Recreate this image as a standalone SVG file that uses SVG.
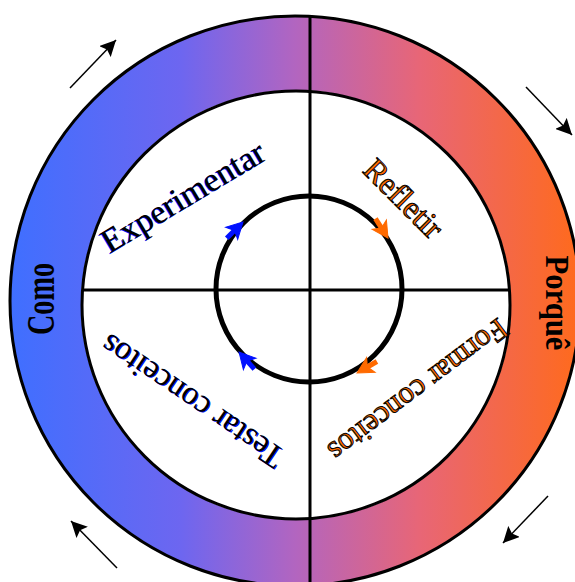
<svg xmlns="http://www.w3.org/2000/svg" width="575" height="582" viewBox="0 0 575 582">
<style>
.edge{fill:none;stroke:#000;stroke-width:3}
.lbl{font-family:"Liberation Serif","Times New Roman",serif;text-anchor:middle}
.side{font-family:"Liberation Serif","Times New Roman",serif;font-weight:bold;text-anchor:middle;fill:#000}
.ol{fill:none;stroke:#000;stroke-width:1.5}
.blue{fill:#0010ff}
.orange{fill:#ff6a00}
.sb{stroke:#0010ff}
.so{stroke:#ff6a00}
</style>
<defs>
<linearGradient id="g" gradientUnits="userSpaceOnUse" x1="10" y1="0" x2="580" y2="0">
<stop offset="0" stop-color="#3f6fff"/>
<stop offset="0.3" stop-color="#6d66f0"/>
<stop offset="0.5" stop-color="#b265c0"/>
<stop offset="0.72" stop-color="#e86676"/>
<stop offset="1" stop-color="#ff6a1c"/>
</linearGradient>
<marker id="ah" markerUnits="userSpaceOnUse" markerWidth="18" markerHeight="16" refX="16" refY="8" orient="auto">
<path d="M0,0 L16,8 L0,16 L3,8 Z" fill="#000"/>
</marker>
<g id="small">
<line x1="-10" y1="0" x2="-23" y2="0" stroke-width="5"/>
<path d="M0,0 L-16,-8.5 L-12,0 L-16,8.5 Z"/>
</g>
</defs>

<g id="ring">
<path d="M10,301 A285,285 0 1,1 580,301 A285,285 0 1,1 10,301 Z M81,305 A215,215 0 1,0 511,305 A215,215 0 1,0 81,305 Z" fill="url(#g)" fill-rule="evenodd"/>
<circle cx="295" cy="301" r="285" class="edge"/>
<circle cx="296" cy="305" r="214" fill="#fff" class="edge"/>
</g>

<g id="cross">
<line x1="310" y1="16" x2="310" y2="590" stroke="#000" stroke-width="3"/>
<line x1="82" y1="290" x2="510" y2="290" stroke="#000" stroke-width="3"/>
</g>

<g id="cycle">
<circle cx="309" cy="289" r="93" fill="none" stroke="#000" stroke-width="5"/>
</g>

<g id="connectors">
<line x1="70" y1="88" x2="116" y2="40" class="ol" marker-end="url(#ah)"/>
<line x1="526" y1="87" x2="572" y2="135" class="ol" marker-end="url(#ah)"/>
<line x1="548" y1="496" x2="503" y2="543" class="ol" marker-end="url(#ah)"/>
<line x1="117" y1="568" x2="71" y2="521" class="ol" marker-end="url(#ah)"/>
<use href="#small" class="blue sb" transform="translate(243,222) rotate(-45)"/>
<use href="#small" class="orange so" transform="translate(388,238) rotate(57)"/>
<use href="#small" class="orange so" transform="translate(357,373) rotate(150)"/>
<use href="#small" class="blue sb" transform="translate(239,352) rotate(228)"/>
</g>

<g id="node-experimentar">
<text class="lbl" font-size="34" fill="#0010ff" transform="translate(188,207) rotate(-31)">Experimentar</text>
<text class="lbl" font-size="34" fill="#000" transform="translate(189,206.2) rotate(-31)">Experimentar</text>
</g>
<g id="node-refletir">
<text class="lbl" font-size="32" fill="#ff6a00" stroke="#000" stroke-width="1" transform="translate(396,206) rotate(45)">Refletir</text>
</g>
<g id="node-testar">
<text class="lbl" font-size="33" fill="#0010ff" transform="translate(198.8,392.8) rotate(214)">Testar conceitos</text>
<text class="lbl" font-size="33" fill="#000" transform="translate(198,392) rotate(214)">Testar conceitos</text>
</g>
<g id="node-formar">
<text class="lbl" font-size="31" fill="#ff6a00" stroke="#000" stroke-width="1" transform="translate(412,382) rotate(143)">Formar conceitos</text>
</g>
<g id="node-como">
<text class="side" font-size="40" textLength="72" lengthAdjust="spacingAndGlyphs" transform="translate(54,299) rotate(-90)">Como</text>
</g>
<g id="node-porque">
<text class="side" font-size="34" textLength="95" lengthAdjust="spacingAndGlyphs" transform="translate(546,303) rotate(90)">Porquê</text>
</g>
</svg>
